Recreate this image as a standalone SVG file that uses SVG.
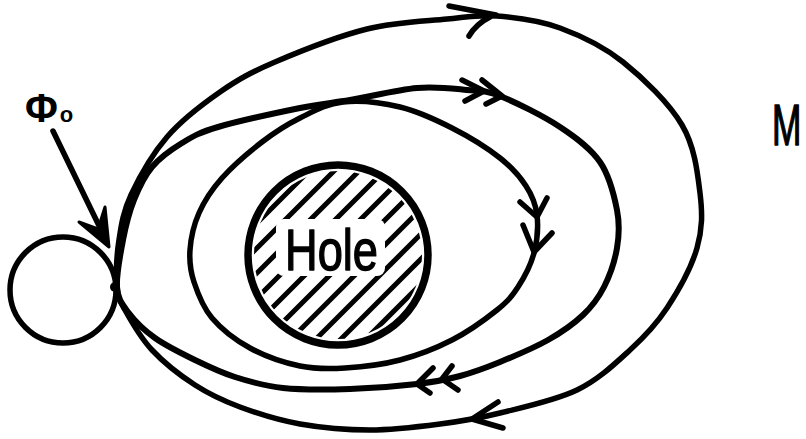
<svg xmlns="http://www.w3.org/2000/svg" width="806" height="439" viewBox="0 0 806 439">
<style>
.ln{fill:none;stroke:#000;stroke-width:5.5;stroke-linecap:round;stroke-linejoin:round}
.hd{fill:none;stroke:#000;stroke-width:5.5;stroke-linecap:round;stroke-linejoin:round}
.ht{stroke:#000;stroke-width:5;stroke-linecap:round}
.lbl{font-family:"Liberation Sans",Arial,sans-serif;fill:#000}
.bold{stroke:#000;stroke-width:1.4;stroke-linejoin:round}
</style>
<defs>
<mask id="hm" maskUnits="userSpaceOnUse" x="0" y="0" width="806" height="439">
<circle cx="338" cy="255" r="84" fill="#fff"/>
<rect x="276" y="219" width="109" height="57" rx="8" fill="#000"/>
</mask>
</defs>
<rect width="806" height="439" fill="#fff"/>

<g id="connectors">
<path id="outer-loop" class="ln" d="M117,287 C116,275.3 116.7,255.3 119,240 C121.3,224.7 123,212.2 131,195 C139,177.8 152.2,154.2 167,137 C181.8,119.8 202,104.5 220,92 C238,79.5 250.5,72.5 275,62 C299.5,51.5 338.3,36.2 367,29 C395.7,21.8 425.3,21.2 447,19 C468.7,16.8 478.2,14.5 497,16 C515.8,17.5 539,20.3 560,28 C581,35.7 602.7,45.8 623,62 C643.3,78.2 669.2,103.2 682,125 C694.8,146.8 697.5,172.5 700,193 C702.5,213.5 702.5,228.8 697,248 C691.5,267.2 678.2,291 667,308 C655.8,325 645,336.3 630,350 C615,363.7 598.7,379.5 577,390 C555.3,400.5 522.8,407.3 500,413 C477.2,418.7 461.7,421.2 440,424 C418.3,426.8 393.3,430 370,430 C346.7,430 321.7,427.8 300,424 C278.3,420.2 257.5,413.5 240,407 C222.5,400.5 209.7,394.5 195,385 C180.3,375.5 163.7,362.5 152,350 C140.3,337.5 130.8,320.5 125,310 C119.2,299.5 118,298.7 117,287 Z"/>
<path id="middle-loop" class="ln" style="stroke-width:6" d="M117,287 C116.2,275 120.2,254.5 123,240 C125.8,225.5 129.2,212.2 134,200 C138.8,187.8 144,176.5 152,167 C160,157.5 171,149.7 182,143 C193,136.3 198.3,132.8 218,127 C237.7,121.2 278,112.5 300,108 C322,103.5 330.5,103.3 350,100 C369.5,96.7 397.5,89.7 417,88 C436.5,86.3 453.2,88.7 467,90 C480.8,91.3 484.5,89.8 500,96 C515.5,102.2 543.3,116 560,127 C576.7,138 590.5,148.2 600,162 C609.5,175.8 614.2,195.7 617,210 C619.8,224.3 619.2,235.2 617,248 C614.8,260.8 609.7,275.8 604,287 C598.3,298.2 592.3,306.2 583,315 C573.7,323.8 561.8,332.2 548,340 C534.2,347.8 514.7,356 500,362 C485.3,368 473.8,372.3 460,376 C446.2,379.7 435.3,381.8 417,384 C398.7,386.2 372.3,388.3 350,389 C327.7,389.7 302.2,390 283,388 C263.8,386 249.7,381.7 235,377 C220.3,372.3 208.3,366.5 195,360 C181.7,353.5 166.2,346 155,338 C143.8,330 134.3,320.5 128,312 C121.7,303.5 117.8,299 117,287 Z"/>
<path id="inner-loop" class="ln" d="M343,102 C359.7,100.2 381.8,102.7 400,107 C418.2,111.3 435.3,119.5 452,128 C468.7,136.5 487.7,148.3 500,158 C512.3,167.7 519.8,176.5 526,186 C532.2,195.5 535.7,203.8 537,215 C538.3,226.2 537.2,241 534,253 C530.8,265 524.2,277.5 518,287 C511.8,296.5 508,301.2 497,310 C486,318.8 468.2,331.7 452,340 C435.8,348.3 417.8,355.3 400,360 C382.2,364.7 361.7,367 345,368 C328.3,369 315.8,369.3 300,366 C284.2,362.7 264.7,356 250,348 C235.3,340 221.3,329 212,318 C202.7,307 197.7,293.3 194,282 C190.3,270.7 189.2,261.5 190,250 C190.8,238.5 193.7,225 199,213 C204.3,201 211.5,189.8 222,178 C232.5,166.2 249,152 262,142 C275,132 286.5,124.7 300,118 C313.5,111.3 326.3,103.8 343,102 Z"/>
<path id="arrows" class="hd" d="M449,6 L496,15 M469,36 Q476,24 490,17 M462,80 L484,91 L465,101 M482,80 L502,96 L486,104 M520,202 L537,217 L547,198 M523,225 L534,252 L552,233 M433,368 L417,384 L430,393 M452,366 L442,379 L458,390 M498,402 L472,419 L503,428"/>
<path id="phi-arrow" class="ln" d="M53,131 L104,236"/>
<polygon points="109,247 79,222 98,229 105,207" fill="#000" stroke="#000" stroke-width="3" stroke-linejoin="round"/>
</g>

<g id="basepoint">
<circle cx="63" cy="290" r="53" fill="none" stroke="#000" stroke-width="5.5"/>
<circle cx="115" cy="287" r="5" fill="#000"/>
</g>

<g id="hole">
<g mask="url(#hm)" class="ht">
<line x1="200" y1="280" x2="480" y2="0"/>
<line x1="200" y1="305" x2="480" y2="25"/>
<line x1="200" y1="330" x2="480" y2="50"/>
<line x1="200" y1="355" x2="480" y2="75"/>
<line x1="200" y1="380" x2="480" y2="100"/>
<line x1="200" y1="405" x2="480" y2="125"/>
<line x1="200" y1="430" x2="480" y2="150"/>
<line x1="200" y1="455" x2="480" y2="175"/>
<line x1="200" y1="480" x2="480" y2="200"/>
<line x1="200" y1="505" x2="480" y2="225"/>
</g>
<circle cx="338" cy="255" r="90" fill="none" stroke="#000" stroke-width="7.5"/>
<text class="lbl bold" x="285" y="270" font-size="58" textLength="93" lengthAdjust="spacingAndGlyphs">Hole</text>
</g>

<g id="label-phi">
<text class="lbl" x="25" y="122" font-size="40" font-weight="bold">Φ<tspan font-size="22" dx="2">o</tspan></text>
</g>

<g id="label-M">
<text class="lbl bold" transform="translate(772,145) scale(0.62,1)" font-size="57">M</text>
</g>
</svg>
